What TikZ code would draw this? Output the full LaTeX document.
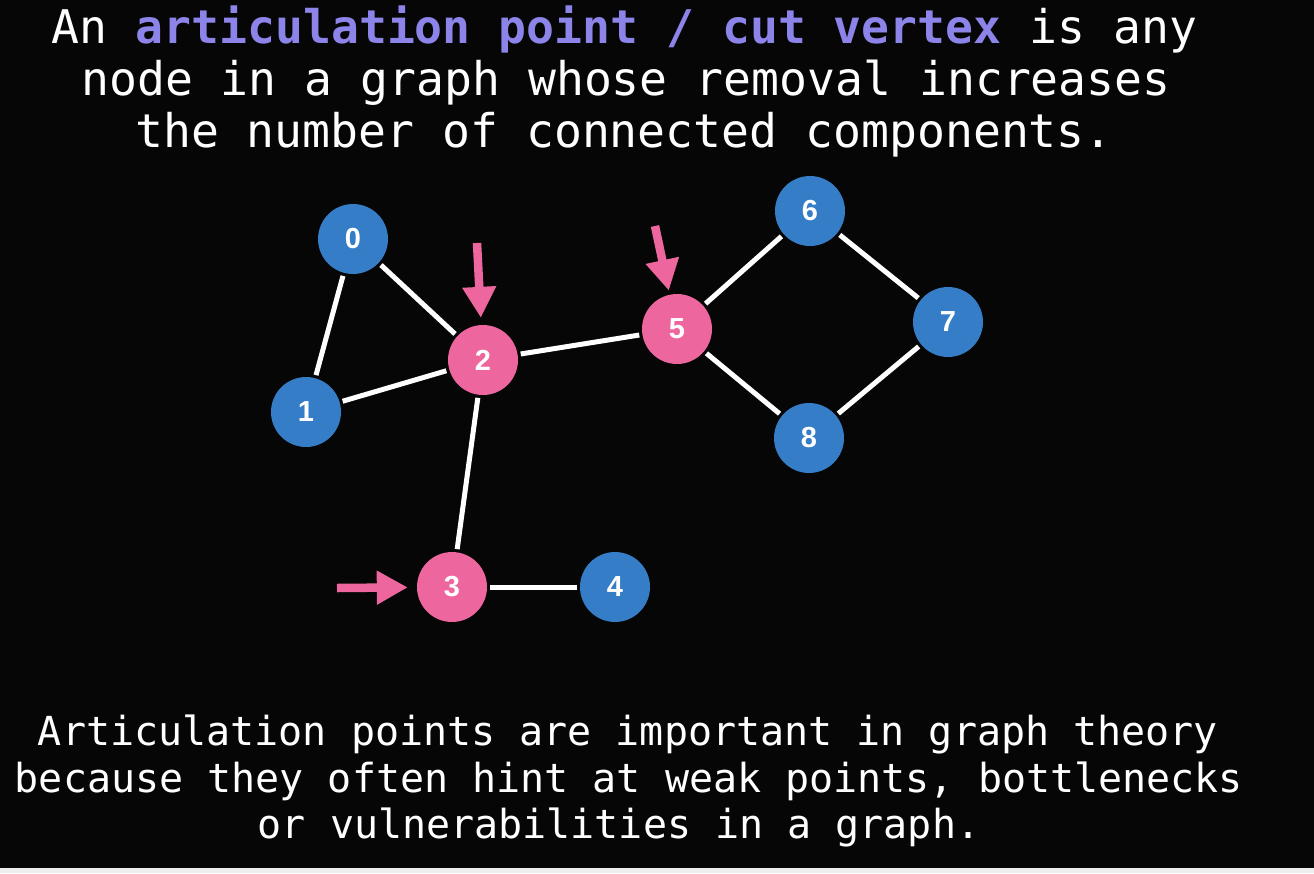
\documentclass[tikz,border=0pt]{standalone}
\usepackage{fontspec}
\setmonofont{DejaVu Sans Mono}
\newfontfamily\numfont{Liberation Sans}
\usetikzlibrary{arrows.meta}

\definecolor{bgdark}{RGB}{6,6,6}
\definecolor{stripgrey}{RGB}{238,238,238}
\definecolor{nodeblue}{RGB}{53,125,199}
\definecolor{nodepink}{RGB}{238,102,158}
\definecolor{accent}{RGB}{140,132,232}

\tikzset{
  titleline/.style={anchor=base, text=white, inner sep=0pt,
    font=\ttfamily\fontsize{46.4}{52}\selectfont},
  noteline/.style={anchor=base, text=white, inner sep=0pt,
    font=\ttfamily\fontsize{40}{46}\selectfont},
  vertex/.style={circle, minimum size=70pt, inner sep=0pt, text=white,
    font=\numfont\bfseries\fontsize{29}{29}\selectfont},
  plainv/.style={vertex, fill=nodeblue},
  cutv/.style={vertex, fill=nodepink},
  edge/.style={draw=white, line width=5pt, shorten <=3pt, shorten >=3pt},
  pointer/.style={draw=nodepink, line width=8.5pt,
    -{Triangle[width=32pt,length=31pt]}},
}

\begin{document}
\begin{tikzpicture}[x=1pt,y=-1pt]
  % canvas
  \fill[bgdark] (0,0) rectangle (1314,873);
  \useasboundingbox (0,0) rectangle (1314,873);
  \fill[stripgrey] (0,868) rectangle (1314,873);

  % heading
  \node[titleline] (t1) at (624.5,43)
    {An {\bfseries\color{accent}articulation point / cut vertex} is any};
  \node[titleline] (t2) at (626,95) {node in a graph whose removal increases};
  \node[titleline] (t3) at (624,147) {the number of connected components.};

  % graph vertices
  \node[plainv] (n0) at (353,239) {0};
  \node[plainv] (n1) at (306,412) {1};
  \node[cutv]   (n2) at (483,360) {2};
  \node[cutv]   (n3) at (452,587) {3};
  \node[plainv] (n4) at (615,587) {4};
  \node[cutv]   (n5) at (677,329) {5};
  \node[plainv] (n6) at (810,211) {6};
  \node[plainv] (n7) at (948,322) {7};
  \node[plainv] (n8) at (809,438) {8};

  % graph edges
  \draw[edge] (n0) -- (n1);
  \draw[edge] (n0) -- (n2);
  \draw[edge] (n1) -- (n2);
  \draw[edge] (n2) -- (n5);
  \draw[edge] (n2) -- (n3);
  \draw[edge] (n3) -- (n4);
  \draw[edge] (n5) -- (n6);
  \draw[edge] (n6) -- (n7);
  \draw[edge] (n5) -- (n8);
  \draw[edge] (n8) -- (n7);

  % markers on the cut vertices
  \coordinate (p2) at (477,243);
  \coordinate (p5) at (655,226);
  \coordinate (p3) at (337,588);
  \draw[pointer, shorten >=7pt] (p2) -- (n2);
  \draw[pointer, shorten >=4pt] (p5) -- (n5);
  \draw[pointer, shorten >=9pt] (p3) -- (n3);

  % closing note
  \node[noteline] (b1) at (628,745) {Articulation points are important in graph theory};
  \node[noteline] (b2) at (629,792) {because they often hint at weak points, bottlenecks};
  \node[noteline] (b3) at (619,838) {or vulnerabilities in a graph.};
\end{tikzpicture}
\end{document}
